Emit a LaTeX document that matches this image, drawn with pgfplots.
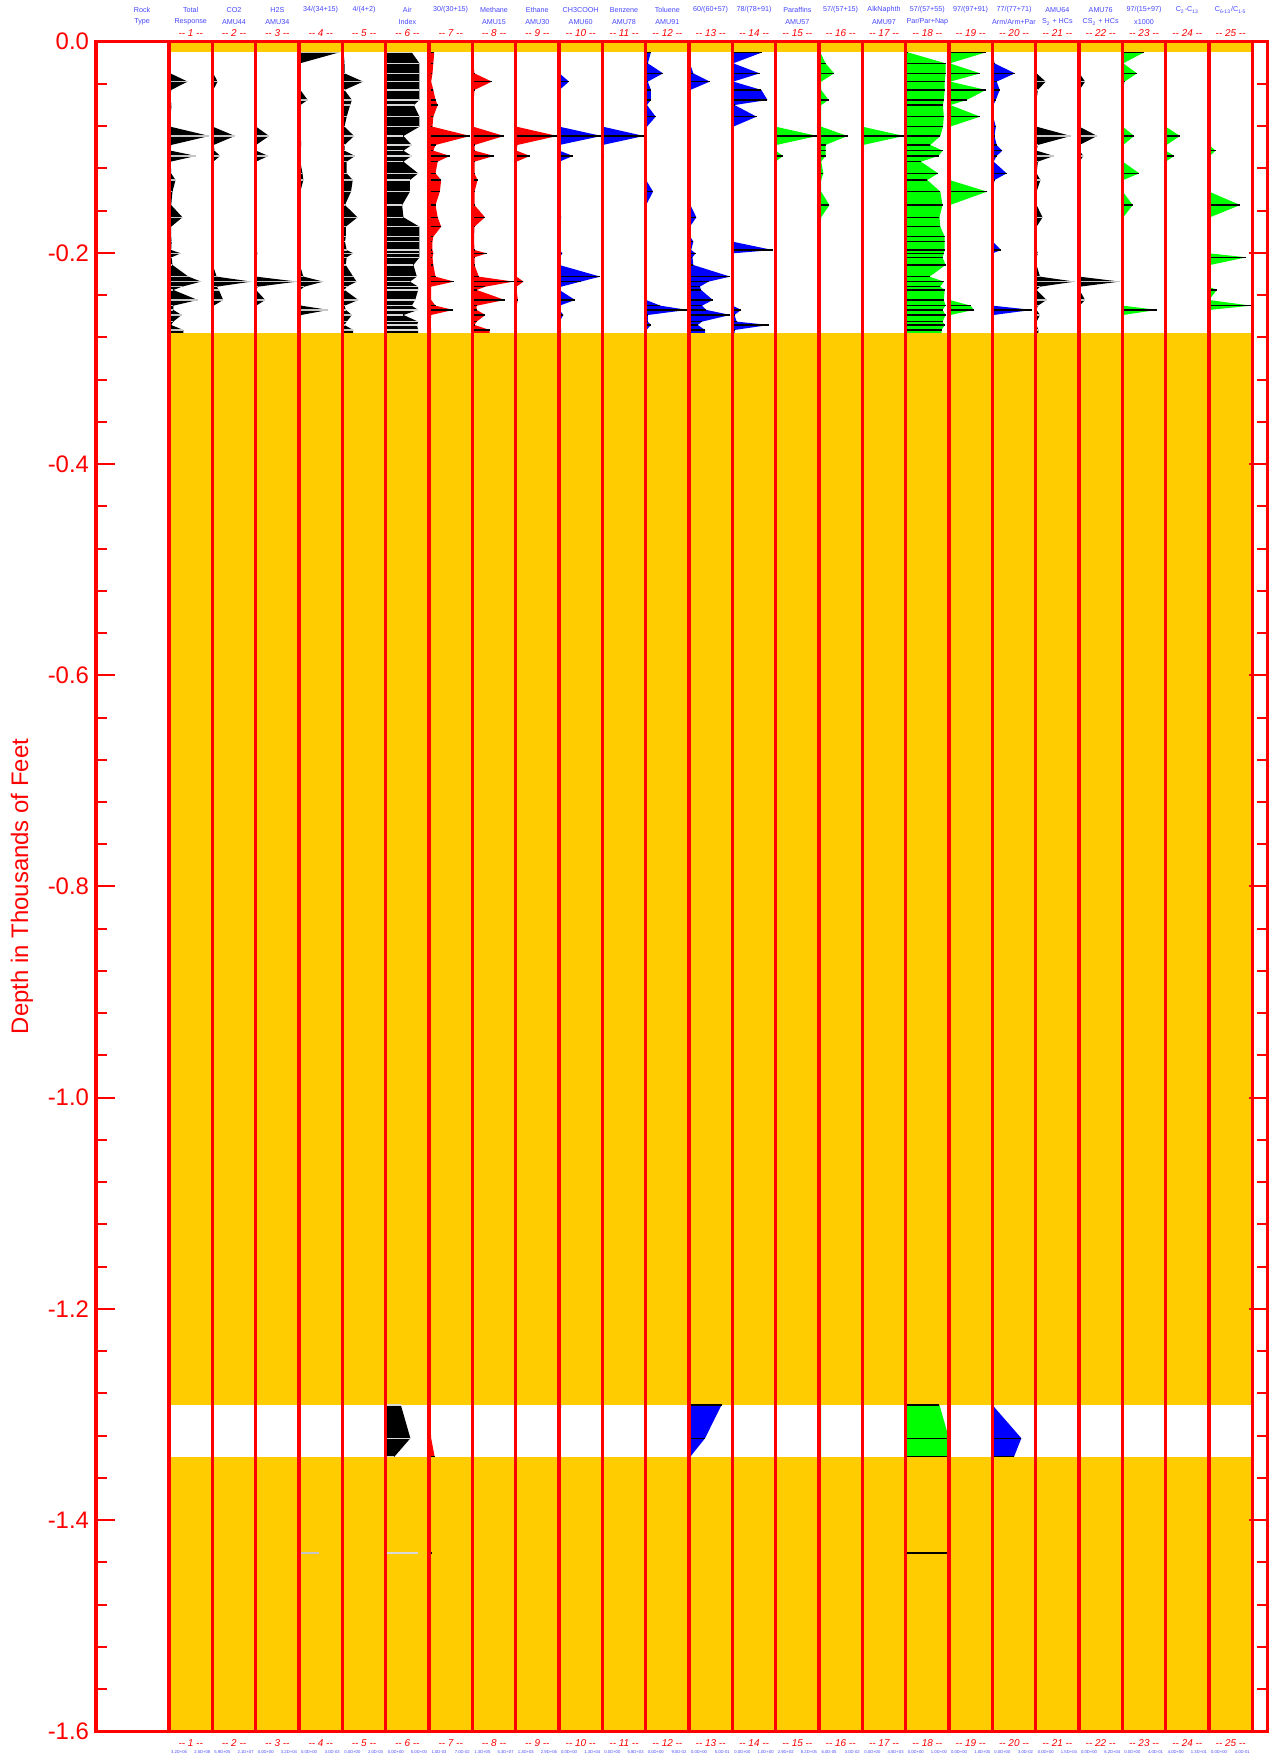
\documentclass[border=0pt]{standalone}
\usepackage{pgfplots}
\pgfplotsset{compat=1.18}
\usepackage{pgfplotstable}
\usepackage{fontspec}
\setmainfont{Liberation Sans}
\definecolor{fisyellow}{RGB}{255,204,0}
\definecolor{hdrblue}{RGB}{70,70,255}
\definecolor{fisgreen}{RGB}{0,255,0}
\definecolor{fisblue}{RGB}{0,0,255}
\definecolor{fisred}{RGB}{255,0,0}

\pgfplotstableread{
d t1 t2 t3 t4 t5 t6 t7 t8 t9 t10 t11 t12 t13 t14 t15 t16 t17 t18 t19 t20 t21 t22 t23 t24 t25
0.0101 0.02 0.01 0.01 0.93 0.03 0.60 0.12 0.02 0.02 0.01 0.01 0.12 0.01 0.69 0 0.03 0 0.05 0.85 0.01 0.02 0.01 0.50 0 0
0.0205 0.02 0.01 0.01 0.02 0.05 0.78 0.10 0.02 0.02 0.01 0.01 0.05 0.02 0.02 0 0.15 0 0.92 0.02 0.05 0.02 0.01 0.02 0 0
0.0300 0.03 0.02 0.01 0.02 0.05 0.78 0.08 0.05 0.02 0.01 0.01 0.40 0.10 0.63 0 0.35 0 0.92 0.72 0.52 0.02 0.01 0.34 0 0
0.0378 0.43 0.12 0.01 0.02 0.48 0.78 0.05 0.45 0.02 0.23 0.01 0.05 0.48 0.02 0 0.05 0 0.90 0.03 0.10 0.23 0.14 0.05 0 0
0.0457 0.05 0.02 0.01 0.03 0.05 0.78 0.10 0.05 0.02 0.01 0.01 0.12 0.03 0.67 0 0.05 0 0.90 0.85 0.17 0.05 0.01 0.02 0 0
0.0552 0.03 0.01 0.01 0.20 0.22 0.78 0.15 0.03 0.02 0.01 0.01 0.12 0.02 0.81 0 0.22 0 0.88 0.41 0.08 0.02 0.01 0.01 0 0
0.0600 0.06 0.01 0.01 0.03 0.18 0.65 0.20 0.03 0.02 0.01 0.01 0.03 0.02 0.05 0 0.05 0 0.86 0.03 0.02 0.02 0.01 0.01 0 0
0.0710 0.03 0.01 0.01 0.03 0.10 0.78 0.10 0.02 0.02 0.01 0.01 0.23 0.02 0.56 0 0.05 0 0.88 0.72 0.02 0.02 0.01 0.01 0 0
0.0805 0.03 0.01 0.01 0.04 0.05 0.78 0.08 0.02 0.02 0.01 0.01 0.03 0.02 0.02 0 0.05 0 0.86 0.02 0.08 0.02 0.01 0.01 0 0
0.0893 0.93 0.52 0.31 0.04 0.27 0.41 0.95 0.73 0.96 0.98 0.96 0.02 0.02 0.01 0.96 0.66 0.96 0.80 0.01 0.05 0.81 0.42 0.27 0.33 0
0.0978 0.05 0.03 0.01 0.05 0.05 0.60 0.15 0.05 0.04 0.01 0.01 0.01 0.02 0.01 0.02 0.15 0.02 0.57 0.01 0.10 0.05 0.01 0.02 0.02 0
0.1032 0.04 0.05 0.01 0.03 0.05 0.41 0.10 0.05 0.02 0.01 0.01 0.01 0.02 0.01 0 0.15 0 0.85 0.01 0.23 0.02 0.01 0.01 0 0.15
0.1082 0.62 0.18 0.29 0.04 0.29 0.60 0.48 0.50 0.33 0.32 0.04 0.01 0.02 0.01 0.17 0.15 0 0.76 0.01 0.10 0.42 0.10 0.01 0.20 0.02
0.1136 0.04 0.02 0.01 0.03 0.10 0.41 0.20 0.05 0.02 0.01 0.01 0.01 0.02 0.01 0 0.05 0 0.35 0.01 0.03 0.05 0.01 0.01 0 0
0.1247 0.05 0.01 0.01 0.08 0.10 0.75 0.15 0.05 0.02 0.01 0.01 0.01 0.02 0.01 0 0.10 0.03 0.75 0.01 0.33 0.02 0.01 0.39 0 0
0.1310 0.15 0.01 0.01 0.10 0.24 0.56 0.28 0.12 0.02 0.01 0.01 0.01 0.02 0.01 0 0.05 0 0.50 0.01 0.05 0.11 0.01 0.02 0 0
0.1420 0.08 0.01 0.01 0.03 0.20 0.56 0.25 0.05 0.02 0.01 0.01 0.17 0.02 0.01 0 0.05 0 0.80 0.88 0.01 0.02 0.01 0.01 0 0
0.1547 0.05 0.01 0.01 0.02 0.06 0.38 0.15 0.05 0.02 0.01 0.01 0.01 0.03 0.01 0 0.24 0 0.85 0.02 0.01 0.02 0.01 0.24 0 0.72
0.1663 0.31 0.03 0.01 0.02 0.35 0.41 0.20 0.29 0.02 0.05 0.01 0.01 0.17 0.01 0 0.05 0 0.78 0.01 0.01 0.16 0.01 0.02 0 0.02
0.1752 0.05 0.01 0.01 0.02 0.08 0.78 0.28 0.05 0.02 0.01 0.01 0.01 0.02 0.01 0 0.03 0 0.80 0.01 0.01 0.02 0.01 0.01 0 0
0.1846 0.05 0.01 0.01 0.02 0.08 0.78 0.10 0.04 0.02 0.01 0.01 0.01 0.03 0.01 0 0.02 0 0.90 0.01 0.01 0.02 0.01 0.01 0 0
0.1894 0.06 0.01 0.01 0.02 0.06 0.78 0.08 0.04 0.02 0.01 0.01 0.01 0.10 0.01 0 0.02 0 0.90 0.01 0.01 0.02 0.01 0.01 0 0
0.1973 0.05 0.01 0.01 0.02 0.10 0.78 0.08 0.05 0.02 0.01 0.01 0.01 0.05 0.93 0 0.03 0 0.90 0.01 0.20 0.02 0.01 0.01 0 0
0.2004 0.27 0.03 0.04 0.02 0.25 0.78 0.10 0.33 0.02 0.08 0.01 0.01 0.15 0.02 0 0.02 0 0.88 0.01 0.01 0.05 0.01 0.01 0 0
0.2042 0.06 0.01 0.01 0.02 0.10 0.78 0.08 0.05 0.02 0.01 0.01 0.01 0.08 0.01 0 0.01 0 0.85 0.01 0.01 0.02 0.01 0.01 0 0.86
0.2115 0.08 0.01 0.01 0.02 0.08 0.64 0.10 0.05 0.02 0.01 0.01 0.01 0.10 0.01 0 0.01 0 0.92 0.01 0.01 0.02 0.01 0.01 0 0.02
0.2225 0.45 0.10 0.01 0.10 0.25 0.72 0.15 0.15 0.02 0.95 0.01 0.01 0.95 0.01 0 0.01 0 0.55 0.01 0.01 0.10 0.01 0.01 0 0
0.2272 0.74 0.90 0.95 0.56 0.33 0.56 0.58 0.95 0.18 0.50 0.03 0.01 0.45 0.01 0 0.01 0 0.88 0.01 0.01 0.90 0.94 0.01 0 0
0.2320 0.30 0.10 0.05 0.12 0.10 0.75 0.05 0.30 0.02 0.05 0.01 0.01 0.25 0.01 0 0.01 0 0.80 0.01 0.01 0.10 0.02 0.01 0 0
0.2351 0.10 0.15 0.01 0.03 0.05 0.75 0.05 0.10 0.02 0.01 0.01 0.01 0.28 0.01 0 0.01 0 0.90 0.01 0.01 0.02 0.01 0.01 0 0.18
0.2446 0.66 0.25 0.22 0.02 0.37 0.68 0.05 0.75 0.05 0.37 0.01 0.01 0.55 0.01 0 0.01 0 0.88 0.01 0.01 0.25 0.14 0.01 0 0
0.2500 0.10 0.03 0.01 0.05 0.05 0.60 0.15 0.10 0.02 0.01 0.01 0.34 0.30 0.01 0 0.01 0 0.92 0.50 0.01 0.05 0.01 0.01 0 0.97
0.2540 0.10 0.01 0.01 0.68 0.08 0.75 0.56 0.10 0.02 0.01 0.01 0.96 0.40 0.20 0 0.01 0 0.85 0.57 0.92 0.02 0.01 0.80 0 0.01
0.2588 0.29 0.01 0.01 0.05 0.22 0.41 0.05 0.30 0.02 0.10 0.01 0.05 0.95 0.05 0 0.01 0 0.92 0.03 0.03 0.10 0.01 0.02 0 0
0.2651 0.10 0.01 0.01 0.02 0.10 0.75 0.04 0.10 0.02 0.01 0.01 0.05 0.30 0.10 0 0.01 0 0.85 0.01 0.01 0.02 0.01 0.01 0 0
0.2683 0.05 0.01 0.01 0.02 0.05 0.72 0.04 0.05 0.02 0.01 0.01 0.12 0.20 0.84 0 0.01 0 0.90 0.01 0.01 0.02 0.01 0.01 0 0
0.2730 0.33 0.01 0.01 0.02 0.25 0.75 0.05 0.40 0.02 0.05 0.01 0.02 0.37 0.05 0 0.01 0 0.83 0.01 0.01 0.06 0.01 0.01 0 0
1.2910 0 0 0 0 0 0.35 0 0 0 0.05 0 0 0.75 0 0 0.05 0 0.78 0 0 0 0 0 0 0
1.3225 0 0 0 0 0 0.57 0.05 0 0 0 0 0 0.37 0 0 0.05 0 1.00 0 0.67 0 0 0 0 0
1.3400 0 0 0 0 0 0.20 0.13 0 0 0 0 0 0.03 0 0 0.05 0 1.00 0 0.50 0 0 0 0 0
1.4310 0 0 0 0.45 0.02 0.75 0.08 0 0 0 0 0 0 0 0 0.05 0 0.95 0 0 0 0 0 0 0
}\data

\newcommand\tn[1]{-{}- #1 -{}-}
\newcommand\hfont{\fontsize{3.6}{4}\selectfont}
\newcommand\nfont{\fontsize{5}{6}\selectfont\itshape}
\newcommand\bfont{\fontsize{2.1}{2.5}\selectfont}

\newcommand\tfill[3]{\addplot[fill=#3,draw=none] table[x expr=#2+\thisrow{t#1},y expr=-\thisrow{d}]{\data} -- (axis cs:#2,-1.431) -- (axis cs:#2,-0.0101) -- cycle;}
\newcommand\tline[3]{\addplot[draw=#3,line width=0.7bp,quiver={u=-\thisrow{t#1},v=0}] table[x expr=#2+\thisrow{t#1},y expr=-\thisrow{d}]{\data};}

\newcommand\hdr[6]{%
  \node[font=\hfont,text=hdrblue,inner sep=0pt] at (axis cs:#1,0.030) {#2};
  \node[font=\hfont,text=hdrblue,inner sep=0pt] at (axis cs:#1,0.0189) {#3};
  \node[font=\nfont,text=fisred,inner sep=0pt] at (axis cs:#1,0.0080) {\tn{#4}};
  \node[font=\nfont,text=fisred,inner sep=0pt] at (axis cs:#1,-1.6108) {\tn{#4}};
  \node[font=\bfont,text=hdrblue,inner sep=0pt,xshift=-5.8bp] at (axis cs:#1,-1.6199) {#5};
  \node[font=\bfont,text=hdrblue,inner sep=0pt,xshift=5.8bp] at (axis cs:#1,-1.6199) {#6};
}

\begin{document}
\begin{tikzpicture}
\begin{axis}[
  at={(48bp,12.85bp)}, anchor=south west,
  scale only axis, width=585.75bp, height=844.8bp,
  xmin=-1.685, xmax=25.35, ymin=-1.6, ymax=0,
  clip=false, axis on top,
  axis line style={fisred, line width=1.6bp},
  xtick=\empty,
  ytick={-1.6,-1.4,-1.2,-1.0,-0.8,-0.6,-0.4,-0.2,0},
  yticklabels={-1.6,-1.4,-1.2,-1.0,-0.8,-0.6,-0.4,-0.2,0.0},
  minor y tick num=4,
  tick align=inside,
  ytick pos=both, yticklabel pos=left,
  major tick length=9.5bp, minor tick length=5.5bp,
  tick style={fisred, line width=1bp},
  yticklabel style={text=fisred, font=\fontsize{12}{14}\selectfont},
  ylabel={Depth in Thousands of Feet},
  ylabel style={text=fisred, font=\fontsize{12}{14}\selectfont, at={(axis description cs:-0.0632,0.5)}, anchor=center},
  no markers,
]
% filled curves
\tfill{1}{0}{black}
\tfill{2}{1}{black}
\tfill{3}{2}{black}
\tfill{4}{3}{black}
\tfill{5}{4}{black}
\tfill{6}{5}{black}
\tfill{7}{6}{fisred}
\tfill{8}{7}{fisred}
\tfill{9}{8}{fisred}
\tfill{10}{9}{fisblue}
\tfill{11}{10}{fisblue}
\tfill{12}{11}{fisblue}
\tfill{13}{12}{fisblue}
\tfill{14}{13}{fisblue}
\tfill{15}{14}{fisgreen}
\tfill{16}{15}{fisgreen}
\tfill{17}{16}{fisgreen}
\tfill{18}{17}{fisgreen}
\tfill{19}{18}{fisgreen}
\tfill{20}{19}{fisblue}
\tfill{21}{20}{black}
\tfill{22}{21}{black}
\tfill{23}{22}{fisgreen}
\tfill{24}{23}{fisgreen}
\tfill{25}{24}{fisgreen}
% intervals without samples
\addplot[fill=fisyellow,draw=none] coordinates {(0,0) (25,0) (25,-0.0101) (0,-0.0101)} -- cycle;
\addplot[fill=fisyellow,draw=none] coordinates {(0,-0.2762) (25,-0.2762) (25,-1.291) (0,-1.291)} -- cycle;
\addplot[fill=fisyellow,draw=none] coordinates {(0,-1.340) (25,-1.340) (25,-1.6) (0,-1.6)} -- cycle;
% sample lines
\tline{1}{0}{gray!45}
\tline{2}{1}{gray!45}
\tline{3}{2}{gray!45}
\tline{4}{3}{gray!45}
\tline{5}{4}{gray!45}
\tline{6}{5}{gray!30}
\tline{7}{6}{black}
\tline{8}{7}{black}
\tline{9}{8}{black}
\tline{10}{9}{black}
\tline{11}{10}{black}
\tline{12}{11}{black}
\tline{13}{12}{black}
\tline{14}{13}{black}
\tline{15}{14}{black}
\tline{16}{15}{black}
\tline{17}{16}{black}
\tline{18}{17}{black}
\tline{19}{18}{black}
\tline{20}{19}{black}
\tline{21}{20}{gray!45}
\tline{22}{21}{gray!45}
\tline{23}{22}{black}
\tline{24}{23}{black}
\tline{25}{24}{black}
% track borders
\pgfplotsinvokeforeach{0,...,25}{\draw[fisred,line width=1.6bp] (axis cs:#1,0) -- (axis cs:#1,-1.6);}
% headers
\node[font=\hfont,text=hdrblue,inner sep=0pt] at (axis cs:-0.62,0.030) {Rock};
\node[font=\hfont,text=hdrblue,inner sep=0pt] at (axis cs:-0.62,0.0189) {Type};
\hdr{0.5}{Total}{Response}{1}{3.2D+06}{2.5D+08}
\hdr{1.5}{CO2}{AMU44}{2}{5.9D+05}{2.1D+07}
\hdr{2.5}{H2S}{AMU34}{3}{0.0D+00}{3.2D+04}
\hdr{3.5}{34/(34+15)}{}{4}{0.0D+00}{3.0D-03}
\hdr{4.5}{4/(4+2)}{}{5}{0.0D+00}{2.0D-03}
\hdr{5.5}{Air}{Index}{6}{0.0D+00}{5.0D+00}
\hdr{6.5}{30/(30+15)}{}{7}{1.0D-03}{7.0D-02}
\hdr{7.5}{Methane}{AMU15}{8}{1.3D+05}{5.3D+07}
\hdr{8.5}{Ethane}{AMU30}{9}{1.3D+03}{2.9D+06}
\hdr{9.5}{CH3COOH}{AMU60}{10}{0.0D+00}{1.3D+04}
\hdr{10.5}{Benzene}{AMU78}{11}{0.0D+00}{5.8D+03}
\hdr{11.5}{Toluene}{AMU91}{12}{0.0D+00}{9.0D-02}
\hdr{12.5}{60/(60+57)}{}{13}{0.0D+00}{5.0D-01}
\hdr{13.5}{78/(78+91)}{}{14}{0.0D+00}{1.0D+00}
\hdr{14.5}{Paraffins}{AMU57}{15}{2.9D+02}{8.2D+05}
\hdr{15.5}{57/(57+15)}{}{16}{6.0D-05}{3.0D-02}
\hdr{16.5}{AlkNaphth}{AMU97}{17}{0.0D+00}{4.5D+03}
\hdr{17.5}{57/(57+55)}{Par/Par+Nap}{18}{0.0D+00}{1.0D+00}
\hdr{18.5}{97/(97+91)}{}{19}{0.0D+00}{1.0D+00}
\hdr{19.5}{77/(77+71)}{Arm/Arm+Par}{20}{0.0D+00}{3.0D-02}
\hdr{20.5}{AMU64}{S\textsubscript{2} + HCs}{21}{0.0D+00}{1.5D+04}
\hdr{21.5}{AMU76}{CS\textsubscript{2} + HCs}{22}{0.0D+00}{6.2D+04}
\hdr{22.5}{97/(15+97)}{x1000}{23}{0.0D+00}{4.0D-01}
\hdr{23.5}{C\textsubscript{2}-C\textsubscript{13}}{}{24}{4.0D+00}{1.3D+01}
\hdr{24.5}{C\textsubscript{6-13}/C\textsubscript{1-5}}{}{25}{0.0D+00}{4.0D-01}
\end{axis}
\pgfresetboundingbox
\path[use as bounding box] (0,0) rectangle (638.5bp,878.5bp);
\end{tikzpicture}
\end{document}
